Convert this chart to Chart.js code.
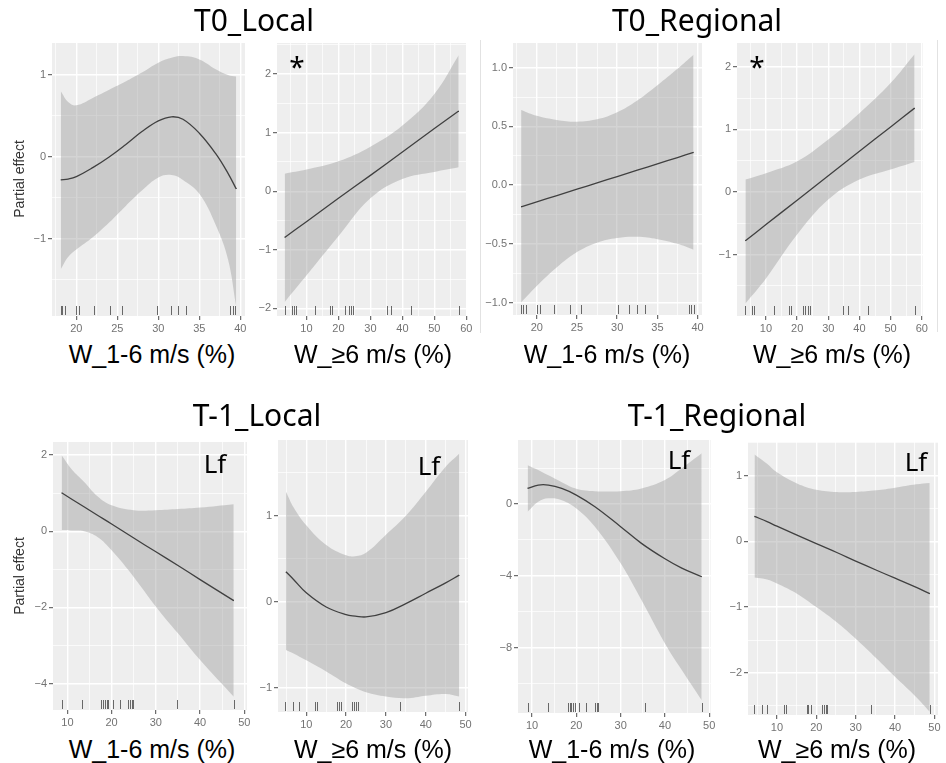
<!DOCTYPE html>
<html>
<head>
<meta charset="utf-8">
<script src="https://cdn.jsdelivr.net/npm/chart.js@4.4.1/dist/chart.umd.min.js"></script>
<style>
  body{ margin:0; background:#fff; width:946px; height:763px; position:relative; overflow:hidden; }
  canvas{ position:absolute; }
  .lbl{ position:absolute; white-space:nowrap; color:#000; transform:translateX(-50%); }
  .ttl{ font-family:'Noto Sans',sans-serif; font-size:30px; line-height:30px; }
  .xt{ font-family:'Liberation Sans',Arial,sans-serif; font-size:25px; line-height:25px; }
  .lf{ font-family:'Noto Sans',sans-serif; font-size:26px; line-height:26px; }
  .star{ font-family:'Noto Sans',sans-serif; font-size:28px; line-height:28px; }
  .yt{ position:absolute; white-space:nowrap; color:#333; font-family:'Liberation Sans',Arial,sans-serif;
       font-size:14px; line-height:14px; transform:translate(-50%,-50%) rotate(-90deg); }
  .sep{ position:absolute; width:1px; background:#e2e2e2; }
</style>
</head>
<body>
<script>
// ---- data ----
// T0_Local, W_1-6
const t0LocW16_x   = [18.1, 19, 20, 22, 24, 26, 28, 30, 31.6, 33, 35, 37, 38.5, 39.5];
const t0LocW16_fit = [-0.28, -0.27, -0.24, -0.13, 0.0, 0.15, 0.31, 0.44, 0.49, 0.46, 0.29, 0.04, -0.2, -0.39];
const t0LocW16_hi  = [0.80, 0.67, 0.63, 0.72, 0.82, 0.92, 1.03, 1.15, 1.21, 1.23, 1.19, 1.07, 1.0, 0.98];
const t0LocW16_lo  = [-1.37, -1.22, -1.13, -0.98, -0.8, -0.6, -0.41, -0.25, -0.22, -0.28, -0.45, -0.83, -1.25, -1.83];
const t0LocW16_rug = [18.1, 18.3, 18.6, 20.0, 20.3, 22.2, 24.1, 25.6, 29.8, 31.5, 32.4, 33.4, 38.8, 39.1, 39.4];
const t0LocW16_xTicks = [20, 25, 30, 35, 40];
const t0LocW16_yTicks = [-1, 0, 1];

// T0_Local, W_>=6
const t0LocW6_x   = [3.2, 10, 20, 30, 40, 50, 57.6];
const t0LocW6_fit = [-0.79, -0.52, -0.12, 0.27, 0.67, 1.07, 1.37];
const t0LocW6_hi  = [0.30, 0.37, 0.51, 0.76, 1.12, 1.66, 2.32];
const t0LocW6_lo  = [-1.89, -1.44, -0.77, -0.12, 0.21, 0.33, 0.41];
const t0LocW6_rug = [3.2, 5.5, 6.0, 6.6, 12.8, 17.5, 18.0, 22.0, 23.2, 23.8, 24.5, 35.2, 36.3, 42.8, 57.6];
const t0LocW6_xTicks = [10, 20, 30, 40, 50, 60];
const t0LocW6_yTicks = [-2, -1, 0, 1, 2];

// T0_Regional, W_1-6
const t0RegW16_x   = [18.05, 20, 22.5, 25, 27.5, 30, 32.5, 35, 37.5, 39.5];
const t0RegW16_fit = [-0.185, -0.143, -0.089, -0.035, 0.019, 0.073, 0.127, 0.181, 0.235, 0.278];
const t0RegW16_hi  = [0.64, 0.59, 0.555, 0.54, 0.56, 0.62, 0.72, 0.85, 0.99, 1.11];
const t0RegW16_lo  = [-1.0, -0.86, -0.7, -0.57, -0.49, -0.45, -0.44, -0.46, -0.5, -0.55];
const t0RegW16_rug = [18.05, 18.34, 18.67, 20.05, 20.34, 22.2, 24.1, 25.55, 30.05, 31.46, 32.46, 33.46, 38.9, 39.2, 39.5];
const t0RegW16_xTicks = [20, 25, 30, 35, 40];
const t0RegW16_yTicks = [-1, -0.5, 0, 0.5, 1];

// T0_Regional, W_>=6
const t0RegW6_x   = [3.4, 10, 20, 30, 40, 50, 57.7];
const t0RegW6_fit = [-0.78, -0.52, -0.13, 0.26, 0.65, 1.04, 1.34];
const t0RegW6_hi  = [0.20, 0.30, 0.49, 0.84, 1.26, 1.74, 2.20];
const t0RegW6_lo  = [-1.78, -1.38, -0.68, -0.12, 0.20, 0.36, 0.48];
const t0RegW6_rug = [3.4, 5.5, 6.3, 12.5, 17.3, 18.0, 21.8, 22.6, 23.4, 24.2, 34.8, 36.2, 42.8, 57.7];
const t0RegW6_xTicks = [10, 20, 30, 40, 50, 60];
const t0RegW6_yTicks = [-1, 0, 1, 2];

// T-1_Local, W_1-6
const t1LocW16_x   = [8.7, 11, 13.75, 16.8, 20, 25, 30, 35, 40, 47.6];
const t1LocW16_fit = [1.01, 0.84, 0.64, 0.42, 0.19, -0.18, -0.54, -0.90, -1.27, -1.82];
const t1LocW16_hi  = [1.99, 1.62, 1.30, 0.92, 0.68, 0.55, 0.55, 0.58, 0.62, 0.71];
const t1LocW16_lo  = [0.03, 0.02, 0.0, -0.15, -0.5, -1.2, -1.98, -2.68, -3.38, -4.34];
const t1LocW16_rug = [8.7, 13.2, 17.7, 18.0, 18.4, 18.9, 19.2, 20.4, 21.8, 23.8, 24.1, 24.5, 24.8, 34.8, 47.6];
const t1LocW16_xTicks = [10, 20, 30, 40, 50];
const t1LocW16_yTicks = [-4, -2, 0, 2];

// T-1_Local, W_>=6
const t1LocW6_x   = [4.9, 6.8, 10, 15, 20, 22.3, 25, 30, 35, 40, 45, 48.4];
const t1LocW6_fit = [0.35, 0.26, 0.105, -0.06, -0.15, -0.165, -0.175, -0.125, -0.02, 0.1, 0.22, 0.31];
const t1LocW6_hi  = [1.28, 1.10, 0.89, 0.66, 0.54, 0.53, 0.57, 0.78, 1.0, 1.28, 1.57, 1.72];
const t1LocW6_lo  = [-0.56, -0.60, -0.68, -0.81, -0.95, -1.0, -1.05, -1.1, -1.12, -1.09, -1.07, -1.1];
const t1LocW6_rug = [4.7, 6.7, 8.1, 12.3, 12.8, 17.7, 18.3, 18.7, 21.6, 22.1, 22.5, 22.9, 33.6, 48.4];
const t1LocW6_xTicks = [10, 20, 30, 40, 50];
const t1LocW6_yTicks = [-1, 0, 1];

// T-1_Regional, W_1-6
const t1RegW16_x   = [9.0, 11.4, 13.7, 16.7, 20, 24.2, 30, 34.7, 40, 43.8, 48.3];
const t1RegW16_fit = [0.87, 1.06, 1.06, 0.87, 0.5, -0.15, -1.26, -2.19, -3.05, -3.57, -4.05];
const t1RegW16_hi  = [2.17, 1.90, 1.60, 1.22, 0.86, 0.72, 0.72, 0.87, 1.34, 1.99, 2.83];
const t1RegW16_lo  = [-0.43, 0.13, 0.32, 0.22, -0.24, -1.26, -3.3, -5.35, -7.77, -9.25, -10.93];
const t1RegW16_rug = [9.0, 13.5, 18.1, 18.5, 18.9, 19.3, 19.7, 20.6, 22.1, 24.2, 24.6, 24.9, 35.5, 48.3];
const t1RegW16_xTicks = [10, 20, 30, 40, 50];
const t1RegW16_yTicks = [-8, -4, 0];

// T-1_Regional, W_>=6
const t1RegW6_x   = [4.3, 7.5, 10, 15.1, 20, 25.2, 30, 35.3, 40, 45.4, 48.8];
const t1RegW6_fit = [0.38, 0.30, 0.23, 0.095, -0.035, -0.17, -0.30, -0.44, -0.56, -0.70, -0.795];
const t1RegW6_hi  = [1.32, 1.18, 1.05, 0.88, 0.785, 0.75, 0.75, 0.775, 0.815, 0.866, 0.886];
const t1RegW6_lo  = [-0.55, -0.58, -0.64, -0.795, -1.0, -1.23, -1.48, -1.78, -2.06, -2.37, -2.59];
const t1RegW6_rug = [4.1, 6.2, 7.5, 11.8, 12.4, 17.6, 18.0, 18.6, 21.5, 21.9, 22.5, 22.8, 33.8, 48.8];
const t1RegW6_xTicks = [10, 20, 30, 40, 50];
const t1RegW6_yTicks = [-2, -1, 0, 1];

// ---- layout ----
const PANEL_BG = '#EEEEEE';
const BAND = 'rgba(153,153,153,0.42)';
const Y_W = 38, PAD_T = 12, PAD_R = 12, X_H = 24;

// box = plot area in page px [left, top, right, bottom]
const PANELS = [
  { box:[52,43,245,316],  xr:[17.03,40.57], yr:[-1.94,1.39],  dec:0, x:t0LocW16_x, fit:t0LocW16_fit, hi:t0LocW16_hi, lo:t0LocW16_lo, rug:t0LocW16_rug, xt:t0LocW16_xTicks, yt:t0LocW16_yTicks },
  { box:[277,43,467,316], xr:[0.8,60.2],    yr:[-2.13,2.53],  dec:0, x:t0LocW6_x,  fit:t0LocW6_fit,  hi:t0LocW6_hi,  lo:t0LocW6_lo,  rug:t0LocW6_rug,  xt:t0LocW6_xTicks,  yt:t0LocW6_yTicks },
  { box:[513,43,702,315], xr:[17.04,40.55], yr:[-1.106,1.21], dec:1, x:t0RegW16_x, fit:t0RegW16_fit, hi:t0RegW16_hi, lo:t0RegW16_lo, rug:t0RegW16_rug, xt:t0RegW16_xTicks, yt:t0RegW16_yTicks },
  { box:[737,43,923,316], xr:[0.7,60.4],    yr:[-1.98,2.38],  dec:0, x:t0RegW6_x,  fit:t0RegW6_fit,  hi:t0RegW6_hi,  lo:t0RegW6_lo,  rug:t0RegW6_rug,  xt:t0RegW6_xTicks,  yt:t0RegW6_yTicks },
  { box:[53,442,247,710], xr:[6.75,50.6],   yr:[-4.69,2.34],  dec:0, x:t1LocW16_x, fit:t1LocW16_fit, hi:t1LocW16_hi, lo:t1LocW16_lo, rug:t1LocW16_rug, xt:t1LocW16_xTicks, yt:t1LocW16_yTicks },
  { box:[278,440,468,712],xr:[2.9,50.6],    yr:[-1.28,1.88],  dec:0, x:t1LocW6_x,  fit:t1LocW6_fit,  hi:t1LocW6_hi,  lo:t1LocW6_lo,  rug:t1LocW6_rug,  xt:t1LocW6_xTicks,  yt:t1LocW6_yTicks },
  { box:[518,440,711,713],xr:[6.83,50.4],   yr:[-11.64,3.57], dec:0, x:t1RegW16_x, fit:t1RegW16_fit, hi:t1RegW16_hi, lo:t1RegW16_lo, rug:t1RegW16_rug, xt:t1RegW16_xTicks, yt:t1RegW16_yTicks },
  { box:[748,442,938,715],xr:[2.66,50.9],   yr:[-2.64,1.51],  dec:0, x:t1RegW6_x,  fit:t1RegW6_fit,  hi:t1RegW6_hi,  lo:t1RegW6_lo,  rug:t1RegW6_rug,  xt:t1RegW6_xTicks,  yt:t1RegW6_yTicks }
];

// page texts: [text, class, centerX, top]
const LABELS = [
  ['T0_Local', 'ttl', 254, 5], ['T0_Regional', 'ttl', 697, 5],
  ['T-1_Local', 'ttl', 257, 400], ['T-1_Regional', 'ttl', 717, 400],
  ['W_1-6 m/s (%)', 'xt', 152, 342], ['W_\u22656 m/s (%)', 'xt', 373, 342],
  ['W_1-6 m/s (%)', 'xt', 607, 342], ['W_\u22656 m/s (%)', 'xt', 832, 342],
  ['W_1-6 m/s (%)', 'xt', 152, 737], ['W_\u22656 m/s (%)', 'xt', 373, 737],
  ['W_1-6 m/s (%)', 'xt', 612, 737], ['W_\u22656 m/s (%)', 'xt', 837, 737],
  ['*', 'star', 297, 52], ['*', 'star', 757, 52],
  ['Lf', 'lf', 215, 450], ['Lf', 'lf', 429, 452], ['Lf', 'lf', 679, 446], ['Lf', 'lf', 916, 448]
];

function pn_pts(xs, ys){ return xs.map((x,i)=>({ x, y:ys[i] })); }
function pn_fmt(v, dec){
  const s = Math.abs(v).toFixed(dec);
  return (v < 0 ? '\u2212' : '') + s;
}
// half-way grid lines between (and just outside) the labelled ticks
function pn_minor(major, lo, hi){
  const step = major[1] - major[0];
  const out = [major[0] - step/2];
  major.forEach(m => out.push(m + step/2));
  return out.filter(v => v > lo && v < hi);
}

function pn_axis(range, major, dec, isX){
  const all = major.filter(v => v >= range[0] && v <= range[1])
    .concat(pn_minor(major, range[0], range[1])).sort((a,b)=>a-b);
  const isMaj = v => major.some(m => Math.abs(m - v) < 1e-9);
  return {
    type:'linear', min:range[0], max:range[1], bounds:'data',
    afterBuildTicks: s => { s.ticks = all.map(v => ({ value:v })); },
    afterFit: s => { if(isX) s.height = X_H; else s.width = Y_W; },
    border:{ display:false },
    grid:{
      color:'#ffffff',
      lineWidth: c => (c.tick && isMaj(c.tick.value)) ? 1.4 : 0.7,
      drawTicks:true, tickLength:4, tickWidth:1,
      tickColor: c => (c.tick && isMaj(c.tick.value)) ? '#4d4d4d' : 'rgba(0,0,0,0)'
    },
    ticks:{
      autoSkip:false, maxRotation:0, minRotation:0, padding:2, color:'#737373',
      font:{ family:'Liberation Sans', size:11 },
      callback: v => isMaj(v) ? pn_fmt(v, dec) : ''
    }
  };
}

const bgPlugin = {
  id:'panelBg',
  beforeDraw(chart){
    const { ctx, chartArea:a } = chart;
    ctx.save();
    ctx.fillStyle = PANEL_BG;
    ctx.fillRect(a.left, a.top, a.right - a.left, a.bottom - a.top);
    ctx.restore();
  }
};
const rugPlugin = {
  id:'rug',
  afterDatasetsDraw(chart, args, opts){
    const { ctx, chartArea:a, scales:{ x } } = chart;
    ctx.save();
    ctx.strokeStyle = 'rgba(70,70,70,0.8)';
    ctx.lineWidth = 1;
    (opts.xs || []).forEach(v => {
      const px = Math.round(x.getPixelForValue(v)) + 0.5;
      ctx.beginPath();
      ctx.moveTo(px, a.bottom - 1);
      ctx.lineTo(px, a.bottom - 10);
      ctx.stroke();
    });
    ctx.restore();
  }
};

function pn_make(p){
  const w = p.box[2] - p.box[0] + Y_W + PAD_R;
  const h = p.box[3] - p.box[1] + PAD_T + X_H;
  const cv = document.createElement('canvas');
  cv.width = w; cv.height = h;
  cv.style.width = w + 'px'; cv.style.height = h + 'px';
  cv.style.left = (p.box[0] - Y_W) + 'px';
  cv.style.top = (p.box[1] - PAD_T) + 'px';
  document.body.appendChild(cv);
  const smooth = { pointRadius:0, tension:0.4 };
  new Chart(cv, {
    type:'line',
    data:{ datasets:[
      Object.assign({ data:pn_pts(p.x, p.hi), fill:'+1', backgroundColor:BAND, borderColor:'rgba(0,0,0,0)', borderWidth:0 }, smooth),
      Object.assign({ data:pn_pts(p.x, p.lo), fill:false, borderColor:'rgba(0,0,0,0)', borderWidth:0 }, smooth),
      Object.assign({ data:pn_pts(p.x, p.fit), fill:false, borderColor:'#000', borderWidth:1.3 }, smooth)
    ]},
    options:{
      responsive:false, animation:false, events:[],
      layout:{ padding:{ top:PAD_T, right:PAD_R, left:0, bottom:0 } },
      plugins:{ legend:{ display:false }, tooltip:{ enabled:false }, rug:{ xs:p.rug } },
      scales:{ x:pn_axis(p.xr, p.xt, 0, true), y:pn_axis(p.yr, p.yt, p.dec, false) }
    },
    plugins:[bgPlugin, rugPlugin]
  });
}

PANELS.forEach(pn_make);

LABELS.forEach(([t, cls, cx, top]) => {
  const d = document.createElement('div');
  d.className = 'lbl ' + cls;
  d.textContent = t;
  d.style.left = cx + 'px'; d.style.top = top + 'px';
  document.body.appendChild(d);
});
[[18.5,179],[18.5,576]].forEach(([cx, cy]) => {
  const d = document.createElement('div');
  d.className = 'yt'; d.textContent = 'Partial effect';
  d.style.left = cx + 'px'; d.style.top = cy + 'px';
  document.body.appendChild(d);
});
[[480,40,293],[937,40,292]].forEach(([x, y, hh]) => {
  const d = document.createElement('div');
  d.className = 'sep';
  d.style.left = x + 'px'; d.style.top = y + 'px'; d.style.height = hh + 'px';
  document.body.appendChild(d);
});
</script>
</body>
</html>
